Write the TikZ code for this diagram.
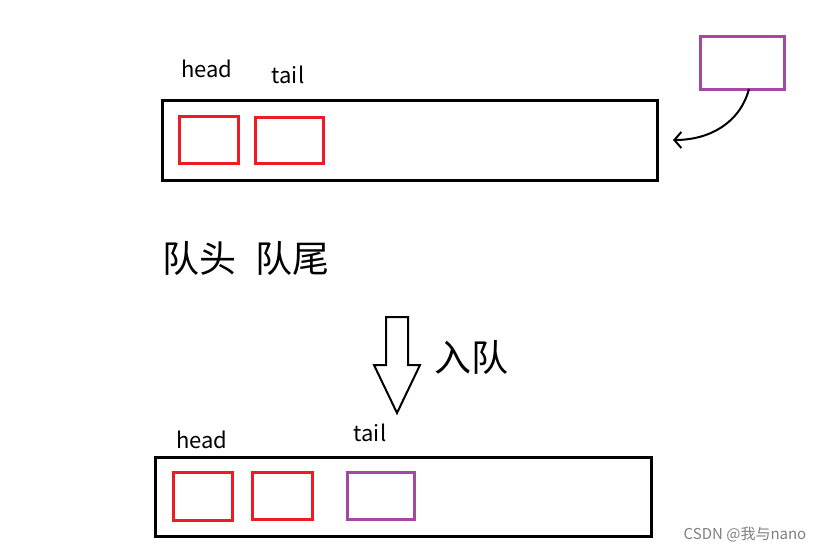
\documentclass[tikz,border=0pt]{standalone}
\usepackage{fontspec}
\setmainfont{Noto Sans CJK SC}
\usetikzlibrary{arrows.meta}
\definecolor{pred}{HTML}{ED1C24}
\definecolor{ppur}{HTML}{A349A4}
\tikzset{
  box/.style={draw, line width=3pt, inner sep=0pt, outer sep=0pt},
  queue/.style={box, draw=black},
  redcell/.style={box, draw=pred},
  purcell/.style={box, draw=ppur},
  lab/.style={font=\fontsize{22}{26}\selectfont, anchor=base, inner sep=0pt},
  big/.style={font=\fontsize{37}{42}\selectfont, inner sep=0pt},
}
\begin{document}
\begin{tikzpicture}[x=1pt,y=-1pt]
\useasboundingbox[fill=white] (0,0) rectangle (824,552);
% top queue
\node[queue, minimum width=495pt, minimum height=80pt] (q1) at (409.5,140) {};
\node[redcell, minimum width=59pt, minimum height=47pt] (r1) at (208.5,139.5) {};
\node[redcell, minimum width=68pt, minimum height=46pt] (r2) at (289,140) {};
\node[purcell, minimum width=84pt, minimum height=53pt] (p1) at (742,62.5) {};
\node[lab] (h1) at (207,77) {head};
\node[lab] (t1) at (288,83) {tail};
\coordinate (tip) at ([xshift=16pt]q1.east);
\draw[line width=2pt, -{Straight Barb[length=7pt,width=16pt]}] ([xshift=7pt]p1.south) to[out=-105,in=0] (tip);
% labels
\node[big] (qh) at (199,258) {队头};
\node[big] (qt) at (292,258) {队尾};
% block arrow
\draw[line width=2pt, line join=miter] (386,317) coordinate (a1) -- (408,317) -- (408,365) -- (420,365) -- (397,413) -- (374,365) -- (386,365) -- cycle;
\node[big] (rq) at (471,357) {入队};
% bottom queue
\node[queue, minimum width=496pt, minimum height=79pt] (q2) at (403,496.5) {};
\node[redcell, minimum width=59pt, minimum height=48pt] (r3) at (202.5,496) {};
\node[redcell, minimum width=60pt, minimum height=47pt] (r4) at (282,495.5) {};
\node[purcell, minimum width=67pt, minimum height=47pt] (p2) at (380.5,495.5) {};
\node[lab] (h2) at (202,448) {head};
\node[lab] (t2) at (370,441) {tail};
% watermark
\node[font=\fontsize{15}{17}\selectfont, text=gray, inner sep=0pt] (wm) at (745,535) {CSDN @我与nano};
\end{tikzpicture}
\end{document}
